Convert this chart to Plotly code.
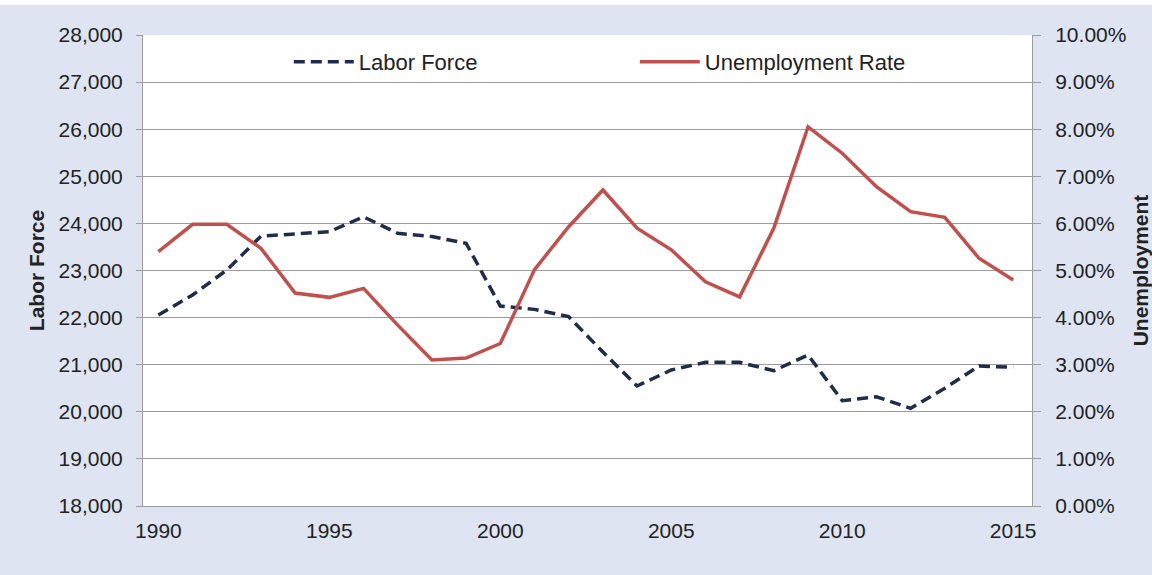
import plotly.graph_objects as go

years = list(range(1990, 2016))
labor_force = [22055, 22480, 23010, 23730, 23775, 23825, 24140, 23790, 23720, 23577,
               22245, 22175, 22020, 21270, 20548, 20887, 21050, 21050, 20873, 21206,
               20236, 20320, 20074, 20500, 20972, 20945]
unemployment_rate = [5.40, 5.98, 5.98, 5.47, 4.52, 4.43, 4.62, 3.84, 3.10, 3.14,
                     3.45, 5.02, 5.93, 6.71, 5.90, 5.44, 4.76, 4.44, 5.90, 8.05,
                     7.49, 6.78, 6.25, 6.13, 5.26, 4.80]
left_ticks = list(range(18000, 28001, 1000))
right_ticks = list(range(0, 11))
right_labels = [f"{v:.2f}%" for v in right_ticks]
x_ticks = [1990, 1995, 2000, 2005, 2010, 2015]

FONT = "Liberation Sans, Arial, sans-serif"
TXT = "#222222"
GRID = "#9c9c9c"

fig = go.Figure()
fig.add_trace(go.Scatter(
    x=years, y=labor_force, name="Labor Force", mode="lines",
    line=dict(color="#1f2d4a", width=3.5, dash="11px,6px"),
    yaxis="y"))
fig.add_trace(go.Scatter(
    x=years, y=unemployment_rate, name="Unemployment Rate", mode="lines",
    line=dict(color="#c0504d", width=3.5),
    yaxis="y2"))

fig.update_layout(
    width=1152, height=575,
    margin=dict(l=143, r=120, t=35, b=69, autoexpand=False),
    paper_bgcolor="#dee4f2",
    plot_bgcolor="#ffffff",
    font=dict(family=FONT, size=21, color=TXT),
    xaxis=dict(
        range=[1989.55, 2015.55], tickmode="array", tickvals=x_ticks,
        showgrid=False, zeroline=False, showline=True, linecolor=GRID, linewidth=1,
        ticks="", ticklabelstandoff=6, tickfont=dict(size=21, color=TXT),
    ),
    yaxis=dict(
        range=[18000, 28000], tickmode="array", tickvals=left_ticks,
        tickformat=",d", showgrid=True, gridcolor=GRID, gridwidth=1,
        zeroline=False, showline=True, linecolor=GRID, linewidth=1,
        ticks="outside", ticklen=6, tickcolor=GRID, ticklabelstandoff=9,
        tickfont=dict(size=21, color=TXT),
        title=dict(text="<b>Labor Force</b>", font=dict(size=21, color=TXT), standoff=8),
    ),
    yaxis2=dict(
        range=[0, 10], tickmode="array", tickvals=right_ticks, ticktext=right_labels,
        overlaying="y", side="right",
        showgrid=False, zeroline=False, showline=True, linecolor=GRID, linewidth=1,
        ticks="outside", ticklen=8, tickcolor=GRID, ticklabelstandoff=10,
        tickfont=dict(size=21, color=TXT),
        title=dict(text="<b>Unemployment</b>", font=dict(size=21, color=TXT), standoff=11),
    ),
    legend=dict(
        orientation="h", x=0.164, y=0.943, xanchor="left", yanchor="middle",
        bgcolor="rgba(0,0,0,0)", font=dict(size=22, color=TXT),
        entrywidth=271, entrywidthmode="pixels", itemwidth=60,
    ),
    shapes=[dict(type="rect", xref="paper", yref="paper",
                 x0=-0.2, x1=1.2, y0=1.0637, y1=1.1, fillcolor="#ffffff",
                 line=dict(width=0), layer="above")],
)

fig.write_html(
    "out.html",
    config={"displayModeBar": False},
    post_script="document.body.style.margin='0';document.body.style.overflow='hidden';",
)
